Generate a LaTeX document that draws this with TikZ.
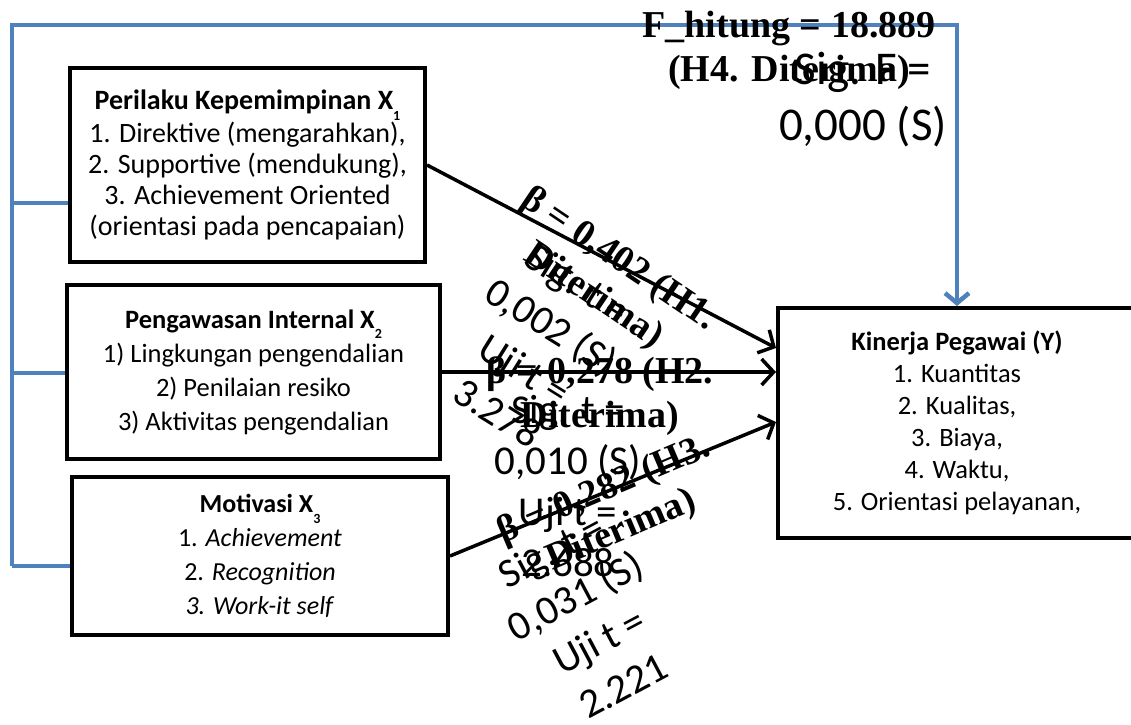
\documentclass[tikz,border=0pt]{standalone}
\usepackage{fontspec}
\setmainfont{Carlito}
\newfontfamily\timesf{Liberation Serif}
\usetikzlibrary{arrows.meta,calc}
\definecolor{bluec}{HTML}{4F81BD}
\newcommand\subx[1]{\raisebox{-0.4em}{\fontsize{14}{14}\selectfont #1}}
\begin{document}
\begin{tikzpicture}[x=1pt,y=-1pt,
  box/.style={draw, line width=4pt, fill=white, align=center, inner sep=0pt},
  arr/.style={line width=3.5pt, -{Straight Barb[length=12pt,width=26pt]}},
  bluearr/.style={draw=bluec, line width=4.5pt, -{Straight Barb[length=10pt,width=24pt]}},
  blueline/.style={draw=bluec, line width=4.5pt},
  lblserif/.style={align=center, inner sep=0pt, font=\timesf\bfseries\fontsize{38}{44}\selectfont},
  lblsans/.style={align=center, inner sep=0pt, font=\fontsize{41}{51}\selectfont},
  lblsansF/.style={align=center, inner sep=0pt, font=\fontsize{47}{56}\selectfont}]
\useasboundingbox (0,0) rectangle (1131,724);

% boxes
\node[box, minimum width=355pt, minimum height=194pt, font=\fontsize{28}{31}\selectfont] (x1) at (247.5,165)
  {\textbf{Perilaku Kepemimpinan X\subx{1}}\\1. Direktive (mengarahkan),\\2. Supportive (mendukung),\\3. Achievement Oriented\\(orientasi pada pencapaian)};
\node[box, minimum width=373pt, minimum height=174pt, font=\fontsize{26.5}{34}\selectfont] (x2) at (253.5,372)
  {\textbf{Pengawasan Internal X\subx{2}}\\1) Lingkungan pengendalian\\2) Penilaian resiko\\3) Aktivitas pengendalian};
\node[box, minimum width=376pt, minimum height=158pt, font=\fontsize{26}{34}\selectfont] (x3) at (260,556)
  {\textbf{Motivasi X\subx{3}}\\1. \textit{Achievement}\\2. \textit{Recognition}\\\textit{3. Work-it self}};
\node[box, minimum width=358pt, minimum height=230pt, font=\fontsize{26.5}{32}\selectfont] (yb) at (957,423)
  {\textbf{Kinerja Pegawai (Y)}\\1. Kuantitas\\2. Kualitas,\\3. Biaya,\\4. Waktu,\\5. Orientasi pelayanan,};

% blue connectors
\coordinate (tl) at (12,25);
\coordinate (bl) at (12,566);
\coordinate (s1) at (12,203);
\coordinate (s2) at (12,373);
\draw[bluearr] (bl) -- (tl) -| (yb.north);
\draw[blueline] (s1) -- (s1 -| x1.west);
\draw[blueline] (s2) -- (s2 -| x2.west);
\draw[blueline] (bl) -- (bl -| x3.west);

% black arrows
\draw[arr] (x1.east) -- ($(yb.west)+(0,-75)$);
\draw[arr] (x2.east) -- ($(yb.west)+(0,-51)$);
\draw[arr] (x3.east) -- ($(yb.west)+(0,-1)$);

% labels
\node[lblserif] (h4) at (789,50) {F\_hitung = 18.889\\(H4. Diterima)};
\node[lblsansF] (sf) at (863,100) {Sig. F =\\0,000 (S)};
\node[lblserif, rotate=-34] (h1) at (606,278) {β = 0,402 (H1.\\Diterima)};
\node[lblsans, rotate=-32] (t1) at (538,348) {Sig. t =\\0,002 (S)\\Uji t =\\3.278};
\node[lblserif] (h2) at (600,396) {β = 0,278 (H2.\\Diterima)};
\node[lblsans] (t2) at (568,486) {Sig. t =\\0,010 (S)\\Uji t =\\2.688};
\node[lblserif, rotate=23] (h3) at (613,511) {β = 0,282 (H3.\\Diterima)};
\node[lblsans, rotate=28] (t3) at (587,618) {Sig. t =\\0,031 (S)\\Uji t =\\2.221};
\end{tikzpicture}
\end{document}
